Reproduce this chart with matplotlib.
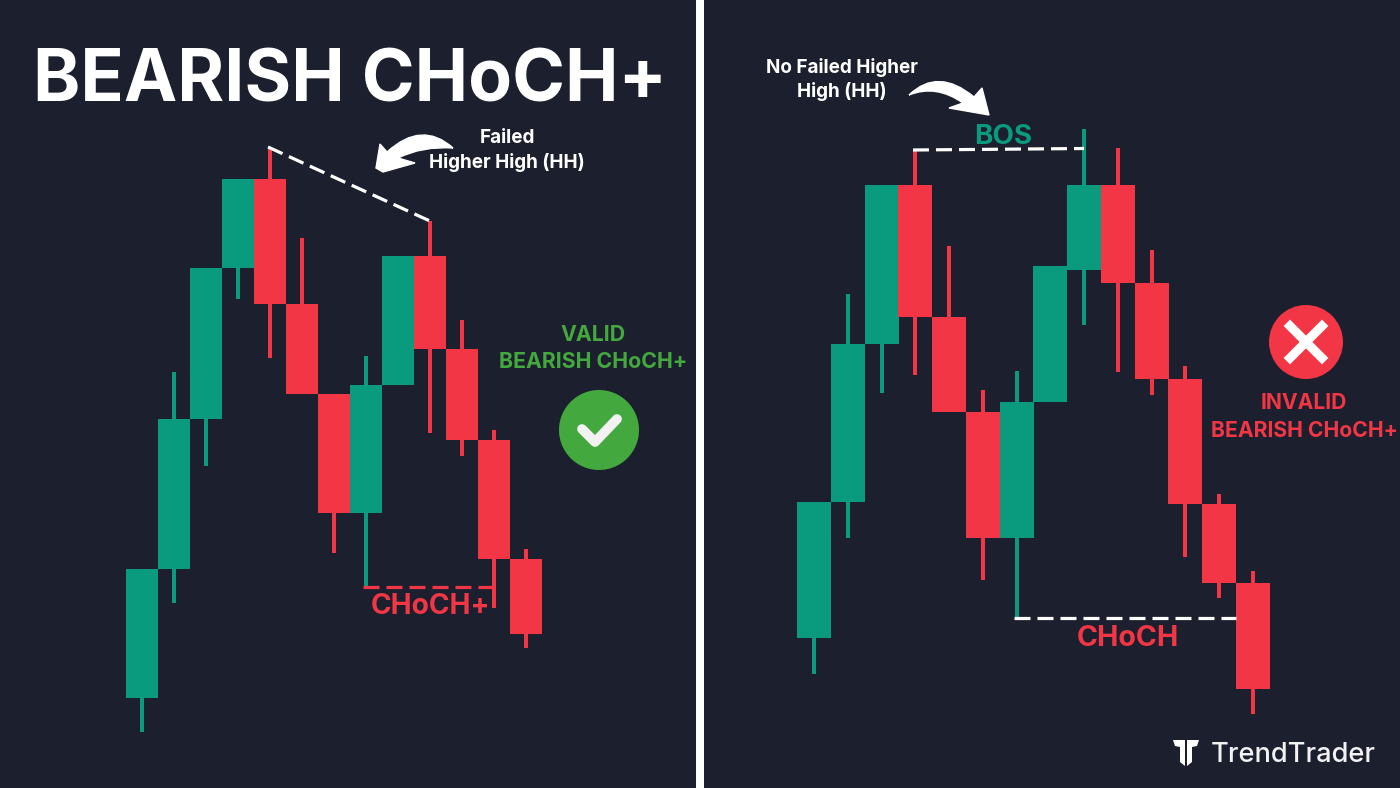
import matplotlib
matplotlib.use('Agg')
import matplotlib.pyplot as plt
from matplotlib.patches import Circle, PathPatch, Rectangle
from matplotlib.path import Path

BG = '#1c202e'
GREEN = '#0a9b7f'
RED = '#f23645'
OK_GREEN = '#43a83e'
WHITE = '#ffffff'

plt.rcParams['font.family'] = ['Inter', 'DejaVu Sans']

# candles, values (the y axis runs top down)
left_open = [698, 569, 419, 268, 179, 304, 394, 513, 385, 256, 349, 440, 559]
left_close = [569, 419, 268, 179, 304, 394, 513, 385, 256, 349, 440, 559, 634]
left_high = [569, 372, 268, 179, 147, 238, 394, 356, 256, 221, 320, 430, 549]
left_low = [732, 603, 466, 299, 358, 394, 553, 587, 385, 433, 456, 608, 648]

right_open = [638, 502, 344, 185, 317, 412, 538, 402, 270, 185, 283, 379, 504, 583]
right_close = [502, 344, 185, 317, 412, 538, 402, 266, 185, 283, 379, 504, 583, 689]
right_high = [502, 294, 185, 150, 246, 390, 371, 266, 129, 148, 250, 366, 494, 571]
right_low = [674, 538, 393, 375, 412, 580, 617, 402, 325, 372, 395, 557, 598, 714]


def draw_candles(ax, x_start, x_step, width, opens, closes, highs, lows):
    for i in range(len(opens)):
        x = x_start + i * x_step
        color = GREEN if closes[i] < opens[i] else RED
        ax.bar(x, lows[i] - highs[i], bottom=highs[i], width=4, color=color, linewidth=0)
        top = min(opens[i], closes[i])
        bottom = max(opens[i], closes[i])
        ax.bar(x, bottom - top, bottom=top, width=width, color=color, linewidth=0)


def draw_arrow(ax, verts, codes):
    ax.add_patch(PathPatch(Path(verts, codes), facecolor=WHITE, edgecolor=WHITE, linewidth=1, zorder=5))


fig = plt.figure(figsize=(14, 7.88), dpi=100, facecolor=BG)
ax = fig.add_axes([0, 0, 1, 1])
ax.set_xlim(0, 1400)
ax.set_ylim(788, 0)
ax.axis('off')

# divider between the two panels
ax.add_patch(Rectangle((696, 0), 8, 788, facecolor=WHITE, edgecolor='none'))

draw_candles(ax, 142.3, 31.97, 32, left_open, left_close, left_high, left_low)
draw_candles(ax, 814, 33.77, 34, right_open, right_close, right_high, right_low)

# dashed levels
dash = (0, (5, 2.2))
ax.plot([268, 431], [147, 221.5], color=WHITE, lw=2.3, linestyle=dash, zorder=4)
ax.plot([363, 494], [587, 587], color=RED, lw=2.3, linestyle=dash, zorder=4)
ax.plot([913, 1084], [150, 148.5], color=WHITE, lw=2.3, linestyle=dash, zorder=4)
ax.plot([1014, 1236], [618, 618], color=WHITE, lw=2.3, linestyle=dash, zorder=4)

# curved arrows
draw_arrow(ax,
           [(453, 148), (422, 120), (387, 152), (380, 144), (376, 168), (383, 172), (415, 163),
            (398, 158), (422, 146), (453, 148)],
           [Path.MOVETO, Path.CURVE3, Path.CURVE3, Path.LINETO, Path.LINETO, Path.LINETO, Path.LINETO,
            Path.LINETO, Path.CURVE3, Path.CURVE3])
draw_arrow(ax,
           [(909, 95), (938, 67), (974, 97), (982, 88), (989, 115), (949, 108), (963, 103),
            (936, 84), (909, 95)],
           [Path.MOVETO, Path.CURVE3, Path.CURVE3, Path.LINETO, Path.LINETO, Path.LINETO, Path.LINETO,
            Path.CURVE3, Path.CURVE3])

# titles and labels
ax.text(350, 82, 'BEARISH CHoCH+', color=WHITE, fontsize=51.5, fontweight='bold', ha='center', va='center')

ax.text(507, 138, 'Failed', color=WHITE, fontsize=13.6, fontweight='bold', ha='center', va='center')
ax.text(507, 162, 'Higher High (HH)', color=WHITE, fontsize=13.6, fontweight='bold', ha='center', va='center')
ax.text(842, 67, 'No Failed Higher', color=WHITE, fontsize=13.6, fontweight='bold', ha='center', va='center')
ax.text(842, 91, 'High (HH)', color=WHITE, fontsize=13.6, fontweight='bold', ha='center', va='center')

ax.text(593, 335, 'VALID', color=OK_GREEN, fontsize=15.3, fontweight='bold', ha='center', va='center')
ax.text(593, 362, 'BEARISH CHoCH+', color=OK_GREEN, fontsize=15.3, fontweight='bold', ha='center', va='center')
ax.text(1304, 403, 'INVALID', color=RED, fontsize=15.2, fontweight='bold', ha='center', va='center')
ax.text(1304, 431, 'BEARISH CHoCH+', color=RED, fontsize=15.2, fontweight='bold', ha='center', va='center')

ax.text(430, 606, 'CHoCH+', color=RED, fontsize=20.2, fontweight='bold', ha='center', va='center')
ax.text(1128, 638, 'CHoCH', color=RED, fontsize=20.6, fontweight='bold', ha='center', va='center')
ax.text(1003, 137, 'BOS', color=GREEN, fontsize=20, fontweight='bold', ha='center', va='center')

# valid badge
ax.add_patch(Circle((599, 430), 40, facecolor=OK_GREEN, edgecolor='none'))
ax.plot([582, 595, 617], [429, 442, 419], color='#f2f2f2', lw=7, solid_capstyle='round', solid_joinstyle='round')

# invalid badge
ax.add_patch(Circle((1306, 342), 37, facecolor=RED, edgecolor='none'))
ax.plot([1290, 1322], [326, 358], color=WHITE, lw=6.5, solid_capstyle='projecting')
ax.plot([1290, 1322], [358, 326], color=WHITE, lw=6.5, solid_capstyle='projecting')

# logo
ax.add_patch(plt.Polygon([(1173, 740), (1185, 740), (1185, 766), (1180, 762), (1180, 747), (1175, 746)],
                         facecolor=WHITE, edgecolor='none'))
ax.add_patch(plt.Polygon([(1199, 740), (1187, 740), (1187, 766), (1192, 762), (1192, 747), (1197, 746)],
                         facecolor=WHITE, edgecolor='none'))
ax.text(1211, 755, 'TrendTrader', color='#f2f2f2', fontsize=19.6, fontweight='medium', ha='left', va='center')

fig.savefig('out.png', dpi=100, facecolor=BG)
